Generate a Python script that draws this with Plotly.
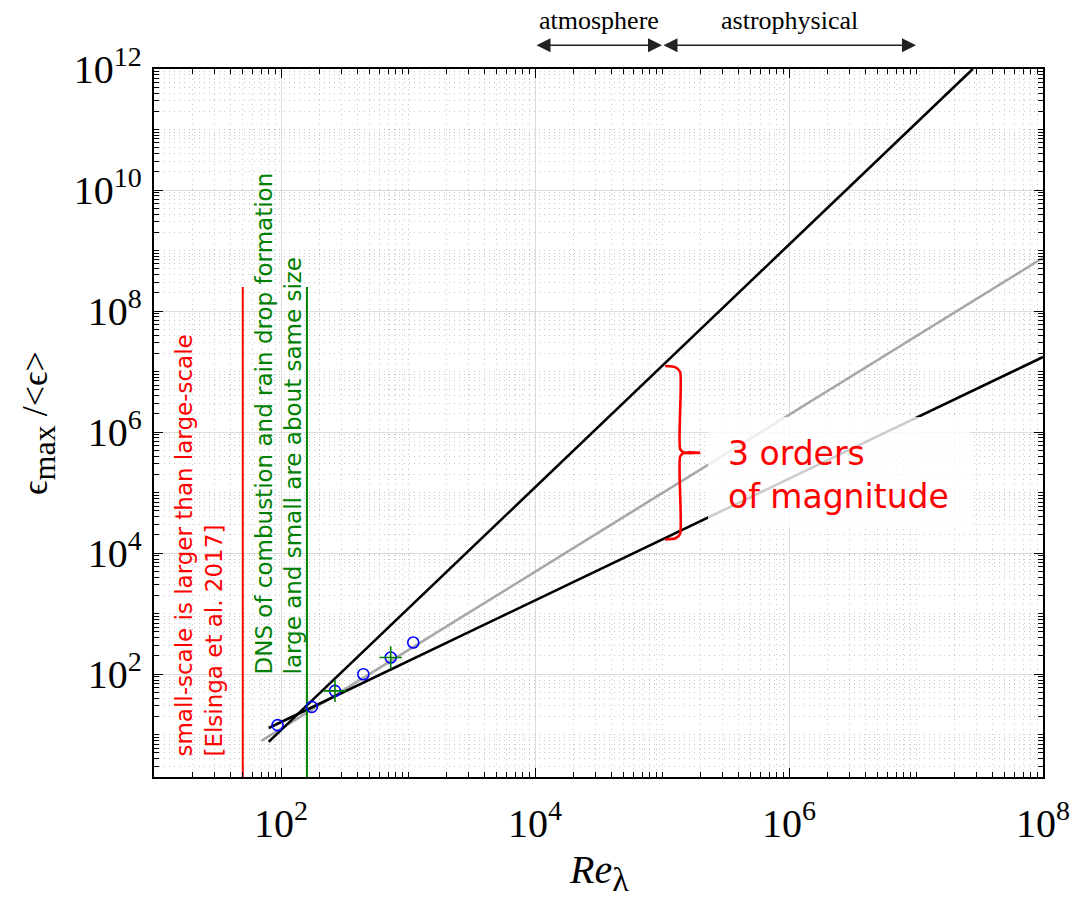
import numpy as np
import plotly.graph_objects as go

# Observed peak dissipation vs Reynolds number
re_dns = [94, 175, 266, 445, 731, 1100]
eps_dns = [14.4, 28.8, 53, 100, 189, 334]
re_dns_green = [266, 731]
eps_dns_green = [53, 189]

# Power-law guide lines (end points)
steep_re = [80, 2.8e7]
steep_eps = [7.6, 1.0e12]
shallow_re = [80, 1.0e8]
shallow_eps = [12.9, 1.74e7]
gray_re = [70, 1.0e8]
gray_eps = [7.9, 7.6e8]

# Vertical marker lines
red_re = [50, 50]
red_eps = [2, 2.5e8]
green_re = [160, 160]
green_eps = [2, 2.5e8]

# Range bars above the plot (Re_lambda)
atmo_range = [1e4, 1e5]
astro_range = [1e5, 1e7]

X_RANGE = [1, 8]
Y_RANGE = [np.log10(2), 12]


def loglin(xs, ys, x):
    lx, ly = np.log10(xs), np.log10(ys)
    t = (np.log10(x) - lx[0]) / (lx[1] - lx[0])
    return 10 ** (ly[0] + t * (ly[1] - ly[0]))


fig = go.Figure()

fig.add_trace(go.Scatter(x=gray_re, y=gray_eps, mode="lines",
                         line=dict(color="#a8a8a8", width=2.6), showlegend=False))
fig.add_trace(go.Scatter(x=steep_re, y=steep_eps, mode="lines",
                         line=dict(color="black", width=2.6), showlegend=False))
fig.add_trace(go.Scatter(x=shallow_re, y=shallow_eps, mode="lines",
                         line=dict(color="black", width=2.6), showlegend=False))
fig.add_trace(go.Scatter(x=red_re, y=red_eps, mode="lines",
                         line=dict(color="red", width=2), showlegend=False))
fig.add_trace(go.Scatter(x=green_re, y=green_eps, mode="lines",
                         line=dict(color="green", width=2), showlegend=False))
fig.add_trace(go.Scatter(x=re_dns, y=eps_dns, mode="markers",
                         marker=dict(symbol="circle-open", size=11, color="blue",
                                     line=dict(width=1.6, color="blue")),
                         showlegend=False))
fig.add_trace(go.Scatter(x=re_dns_green, y=eps_dns_green, mode="markers",
                         marker=dict(symbol="cross-thin-open", size=16, color="green",
                                     line=dict(width=1.6, color="green")),
                         showlegend=False))

# Curly brace spanning the gap between the two black lines at Re = 1e5
re_b = 1e5
top = loglin(steep_re, steep_eps, re_b)
bot = loglin(shallow_re, shallow_eps, re_b)
mid = np.sqrt(top * bot)
xs_hook, xs_spine, xs_tip = re_b * 1.06, re_b * 1.39, re_b * 2.0
brace_x = [xs_hook, re_b * 1.28, xs_spine, xs_spine, re_b * 1.5, xs_tip,
           re_b * 1.5, xs_spine, xs_spine, re_b * 1.28, xs_hook]
brace_y = [top, top / 1.05, top / 1.25, mid * 1.15, mid, mid,
           mid, mid / 1.15, bot * 1.25, bot * 1.05, bot]
fig.add_trace(go.Scatter(x=brace_x, y=brace_y, mode="lines",
                         line=dict(color="red", width=2.6, shape="spline", smoothing=0.6),
                         showlegend=False))

# Translucent white panel behind the brace label
fig.add_shape(type="rect", xref="paper", yref="paper",
              x0=0.6232, x1=0.9179, y0=0.3531, y1=0.5085,
              fillcolor="rgba(255,255,255,0.8)", line=dict(width=0), layer="above")

axis_common = dict(
    type="log", showline=True, linecolor="black", linewidth=1.5, mirror="allticks",
    ticks="inside", ticklen=9, tickwidth=1, tickcolor="black",
    dtick=2, exponentformat="power", automargin=False,
    showgrid=True, gridcolor="#dcdcdc", gridwidth=1.2,
    tickfont=dict(family="Liberation Serif", size=32, color="black"),
    minor=dict(dtick="D1", ticks="inside", ticklen=5, tickcolor="black", tickwidth=1,
               showgrid=True, gridcolor="#c8c8c8", griddash="1px,4px", gridwidth=1),
    zeroline=False,
)
fig.update_xaxes(range=X_RANGE, ticklabelstandoff=12, **axis_common)
fig.update_yaxes(range=Y_RANGE, ticklabelstandoff=4, **axis_common)

annotations = []
# Axis titles
annotations.append(dict(text="<i>Re</i><sub><span style='font-size:34px'>λ</span></sub>",
                        x=0.5, y=-0.135, xref="paper", yref="paper",
                        xanchor="center", yanchor="middle", showarrow=False,
                        font=dict(family="Liberation Serif", size=40, color="black")))
annotations.append(dict(text="ϵ<sub><span style='font-size:32px'>max</span></sub> /&lt;ϵ&gt;",
                        x=-0.1305, y=0.5, xref="paper", yref="paper",
                        xanchor="center", yanchor="middle", showarrow=False, textangle=-90,
                        font=dict(family="Liberation Serif", size=36, color="black")))
# Rotated explanatory texts
annotations.append(dict(text="small-scale is larger than large-scale<br>[Elsinga et al. 2017]",
                        x=(199 - 154) / 889, y=0.026, xref="paper", yref="paper",
                        xanchor="center", yanchor="bottom", align="left", textangle=-90,
                        showarrow=False, font=dict(family="DejaVu Sans", size=23, color="red")))
annotations.append(dict(text="DNS of combustion and rain drop formation<br>large and small are about same size",
                        x=(279 - 154) / 889, y=0.142, xref="paper", yref="paper",
                        xanchor="center", yanchor="bottom", align="left", textangle=-90,
                        showarrow=False, font=dict(family="DejaVu Sans", size=23, color="green")))
# Brace label
annotations.append(dict(text="3 orders<br>of magnitude", x=(726 - 154) / 889, y=0.4266,
                        xref="paper", yref="paper", xanchor="left", yanchor="middle",
                        align="left", showarrow=False,
                        font=dict(family="DejaVu Sans", size=33, color="red")))
# Range arrows above the plot
for rng, label in [(atmo_range, "atmosphere"), (astro_range, "astrophysical")]:
    annotations.append(dict(x=np.log10(rng[1]), y=1.0335, xref="x", yref="paper",
                            ax=np.log10(rng[0]), ay=0, axref="x", ayref="pixel",
                            text="", showarrow=True, arrowhead=2, arrowside="end+start",
                            arrowsize=2.0, arrowwidth=1.4, arrowcolor="#222222",
                            standoff=0, startstandoff=0))
    annotations.append(dict(x=np.mean(np.log10(rng)), y=1.069, xref="x", yref="paper",
                            text=label, showarrow=False, xanchor="center", yanchor="middle",
                            font=dict(family="Liberation Serif", size=26, color="black")))

fig.update_layout(
    width=1070, height=904,
    margin=dict(l=154, r=27, t=69, b=127, autoexpand=False),
    plot_bgcolor="white", paper_bgcolor="white",
    annotations=annotations,
    showlegend=False,
)

fig.write_html("out.html")
